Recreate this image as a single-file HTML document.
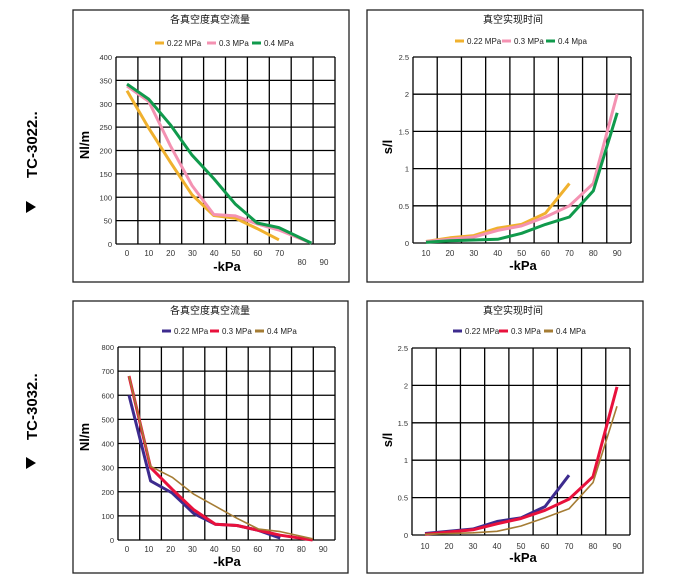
<!DOCTYPE html>
<html><head><meta charset="utf-8">
<style>
html,body{margin:0;padding:0;background:#fff;width:699px;height:581px;overflow:hidden}
svg{display:block}
text{font-family:"Liberation Sans","Noto Sans CJK SC",sans-serif}
</style></head><body>
<svg id="s" width="699" height="581" xmlns="http://www.w3.org/2000/svg">
<rect x="0" y="0" width="699" height="581" fill="#fff"/>
<g font-weight="bold" font-size="15" fill="#000">
<text transform="translate(37,178) rotate(-90)">TC-3022..</text>
<polygon points="26,201 26,213 36,207" fill="#000"/>
<text transform="translate(37,440) rotate(-90)">TC-3032..</text>
<polygon points="26,457 26,469 36,463" fill="#000"/>
</g>
</svg>
<script>
var S=document.getElementById('s'),h='';
function panel(o){
 h+='<rect x="'+o.bx+'" y="'+o.by+'" width="'+o.bw+'" height="'+o.bh+'" fill="none" stroke="#222" stroke-width="1.3"/>';
 h+='<text x="'+o.tx+'" y="'+o.ty+'" font-size="10" text-anchor="middle" fill="#111">'+o.title+'</text>';
 o.leg.forEach(function(l){h+='<line x1="'+l[0]+'" x2="'+(l[0]+9)+'" y1="'+o.ly+'" y2="'+o.ly+'" stroke="'+l[2]+'" stroke-width="3"/><text x="'+(l[0]+12)+'" y="'+(o.ly+3)+'" font-size="8" fill="#222">'+l[1]+'</text>';});
 // grid
 for(var i=0;i<=o.nc;i++){var x=o.px+(o.pw)*i/o.nc;h+='<line x1="'+x+'" x2="'+x+'" y1="'+o.py+'" y2="'+(o.py+o.ph)+'" stroke="#000" stroke-width="1.3"/>';}
 for(var j=0;j<=o.nr;j++){var y=o.py+o.ph*j/o.nr;h+='<line x1="'+o.px+'" x2="'+(o.px+o.pw)+'" y1="'+y+'" y2="'+y+'" stroke="#000" stroke-width="1.3"/>';
  var v=o.ymax-(o.ymax/o.nr)*j; v=Math.round(v*100)/100;
  h+='<text x="'+(o.px-4)+'" y="'+(y+3)+'" font-size="7.5" text-anchor="end" fill="#333">'+v+'</text>';}
 o.xl.forEach(function(l){h+='<text x="'+l[0]+'" y="'+l[1]+'" font-size="8" text-anchor="middle" fill="#333">'+l[2]+'</text>';});
 h+='<text transform="translate('+o.yt[0]+','+o.yt[1]+') rotate(-90)" font-size="13" font-weight="bold" text-anchor="middle">'+o.ytl+'</text>';
 h+='<text x="'+o.xt[0]+'" y="'+o.xt[1]+'" font-size="13" font-weight="bold" text-anchor="middle">-kPa</text>';
 o.ser.forEach(function(s){var p=s.d.map(function(d){return (o.x0+(d[0]-o.xv0)*o.xs).toFixed(1)+','+(o.y0-d[1]*o.ys).toFixed(1)}).join(' ');
  h+='<polyline points="'+p+'" fill="none" stroke="'+s.c+'" stroke-width="'+(s.w||3)+'" stroke-linejoin="round"/>';});
}
var OR='#f0b12e',PK='#f492b2',GR='#109a4c',BL='#3d2b8e',RD='#e8113c',BR='#a57c34';
var xl1=[],xl3=[],xl2=[],xl4=[];
for(var i=0;i<8;i++)xl1.push([127+i*21.8,256,i*10]);xl1.push([302,265,80]);xl1.push([324,265,90]);
for(var i=0;i<10;i++)xl3.push([127+i*21.8,552,i*10]);
for(var i=0;i<9;i++){xl2.push([426+i*23.9,256,(i+1)*10]);xl4.push([425+i*24,549,(i+1)*10]);}
panel({bx:73,by:10,bw:276,bh:272,tx:210,ty:23,title:'各真空度真空流量',ly:43,
 leg:[[155,'0.22 MPa',OR],[207,'0.3 MPa',PK],[252,'0.4 MPa',GR]],
 px:116,py:57,pw:219,ph:187,nc:10,nr:8,ymax:400,xl:xl1,yt:[89,145],ytl:'Nl/m',xt:[227,271],
 x0:127,xv0:0,xs:2.17,y0:244,ys:187/400,
 ser:[{c:OR,d:[[0,328],[10,248],[20,175],[30,105],[40,61],[50,55],[60,33],[70,9]]},
      {c:PK,d:[[0,338],[10,305],[20,210],[30,125],[40,63],[50,60],[60,43],[70,30],[85,2]]},
      {c:GR,d:[[0,342],[10,310],[20,255],[30,190],[40,140],[50,85],[60,45],[70,35],[85,2]]}]});
panel({bx:367,by:10,bw:276,bh:272,tx:513,ty:23,title:'真空实现时间',ly:41,
 leg:[[455,'0.22 MPa',OR],[502,'0.3 MPa',PK],[546,'0.4 Mpa',GR]],
 px:413,py:57,pw:218,ph:186,nc:9,nr:5,ymax:2.5,xl:xl2,yt:[392,147],ytl:'s/l',xt:[523,270],
 x0:426,xv0:10,xs:2.39,y0:243,ys:186/2.5,
 ser:[{c:OR,d:[[10,.02],[20,.07],[30,.1],[40,.2],[50,.25],[60,.4],[70,.8]]},
      {c:PK,d:[[10,.02],[20,.05],[30,.08],[40,.17],[50,.23],[60,.35],[70,.5],[80,.8],[90,2.0]]},
      {c:GR,d:[[10,.01],[20,.03],[30,.04],[40,.05],[50,.13],[60,.25],[70,.35],[80,.7],[90,1.75]]}]});
panel({bx:73,by:301,bw:275,bh:272,tx:210,ty:314,title:'各真空度真空流量',ly:331,
 leg:[[162,'0.22 MPa',BL],[210,'0.3 MPa',RD],[255,'0.4 MPa',BR]],
 px:118,py:347,pw:217,ph:193,nc:10,nr:8,ymax:800,xl:xl3,yt:[89,437],ytl:'Nl/m',xt:[227,566],
 x0:129,xv0:0,xs:2.16,y0:540,ys:193/800,
 ser:[{c:BL,d:[[0,600],[10,245],[20,195],[30,110],[40,65],[50,60],[60,40],[70,8]]},
      {c:RD,d:[[0,680],[10,300],[20,210],[30,125],[40,65],[50,60],[60,40],[70,20],[85,0]]},
      {c:BR,w:1.6,d:[[0,680],[10,305],[20,260],[30,190],[40,140],[50,90],[60,45],[70,35],[85,5]]}]});
panel({bx:367,by:301,bw:276,bh:272,tx:513,ty:314,title:'真空实现时间',ly:331,
 leg:[[453,'0.22 MPa',BL],[499,'0.3 MPa',RD],[544,'0.4 MPa',BR]],
 px:412,py:348,pw:218,ph:187,nc:9,nr:5,ymax:2.5,xl:xl4,yt:[392,440],ytl:'s/l',xt:[523,562],
 x0:425,xv0:10,xs:2.4,y0:535,ys:187/2.5,
 ser:[{c:BL,d:[[10,.02],[20,.05],[30,.08],[40,.18],[50,.23],[60,.38],[70,.8]]},
      {c:RD,d:[[10,.01],[20,.04],[30,.07],[40,.15],[50,.22],[60,.33],[70,.48],[80,.78],[90,1.98]]},
      {c:BR,w:1.6,d:[[10,.01],[20,.02],[30,.03],[40,.05],[50,.12],[60,.23],[70,.35],[80,.7],[90,1.72]]}]});
S.insertAdjacentHTML('beforeend',h);
</script>
</body></html>
